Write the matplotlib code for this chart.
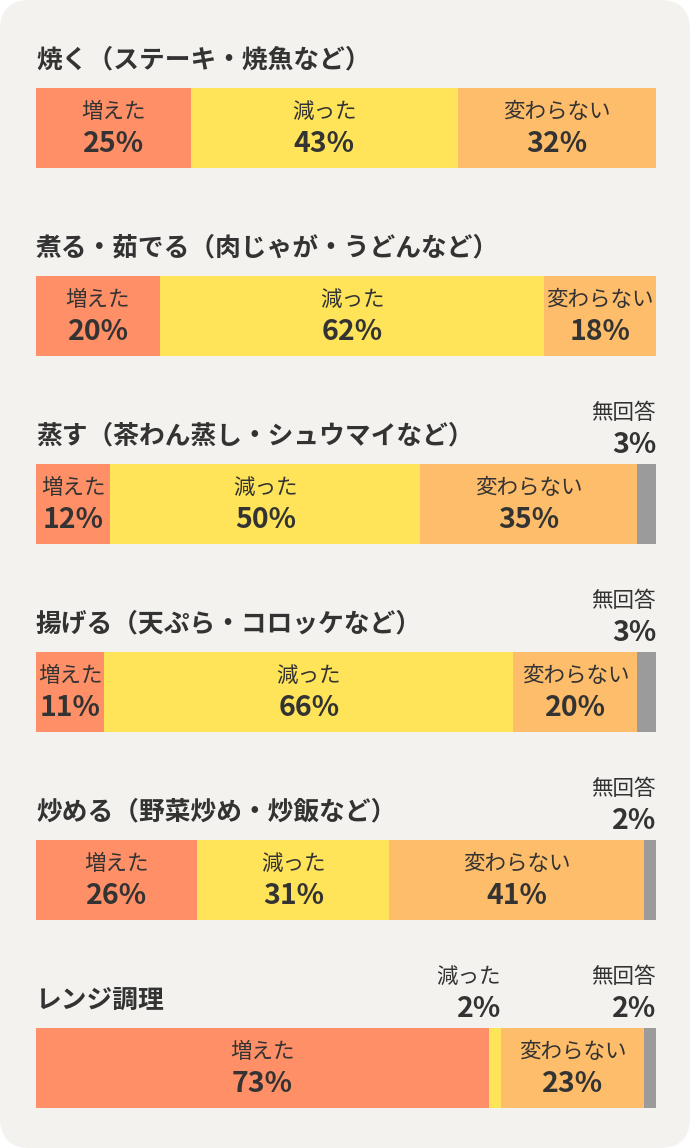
import matplotlib
matplotlib.use("Agg")
import matplotlib.pyplot as plt
from matplotlib.patches import FancyBboxPatch

plt.rcParams['font.family'] = ['Noto Sans CJK JP', 'DejaVu Sans']

titles = ['焼く（ステーキ・焼魚など）',
          '煮る・茹でる（肉じゃが・うどんなど）',
          '蒸す（茶わん蒸し・シュウマイなど）',
          '揚げる（天ぷら・コロッケなど）',
          '炒める（野菜炒め・炒飯など）',
          'レンジ調理']
categories = ['増えた', '減った', '変わらない', '無回答']
increased = [25, 20, 12, 11, 26, 73]
decreased = [43, 62, 50, 66, 31, 2]
unchanged = [32, 18, 35, 20, 41, 23]
no_answer = [0, 0, 3, 3, 2, 2]

colors = ['#ff8f66', '#ffe45a', '#fdbd6a', '#9b9b9b']
text_color = '#333333'

W, H = 690, 1148
fig = plt.figure(figsize=(W / 100, H / 100), dpi=100, facecolor='white')

# rounded background panel (pixel coordinates)
bg_ax = fig.add_axes([0, 0, 1, 1], zorder=-1)
bg_ax.set_xlim(0, W)
bg_ax.set_ylim(0, H)
bg_ax.axis('off')
bg_ax.add_patch(FancyBboxPatch((0, 0), W, H, boxstyle='round,pad=0,rounding_size=30',
                               facecolor='#f3f2ef', edgecolor='none'))

bar_left, bar_w, bar_h = 36, 620, 80
first_top, step = 88, 188

for i, title in enumerate(titles):
    top = first_top + i * step
    ax = fig.add_axes([bar_left / W, 1 - (top + bar_h) / H, bar_w / W, bar_h / H])
    ax.set_xlim(0, 100)
    ax.set_ylim(0, 1)
    ax.axis('off')

    vals = [increased[i], decreased[i], unchanged[i], no_answer[i]]
    left = 0
    for cat, v, c in zip(categories, vals, colors):
        if v == 0:
            continue
        ax.barh(0.5, v, left=left, height=1, color=c, edgecolor='none')
        if v >= 5:
            ax.text(left + v / 2, 1 - 24 / bar_h, cat, ha='center', va='center',
                    fontsize=15.5, color=text_color)
            ax.text(left + v / 2, 1 - 56 / bar_h, f'{v}%', ha='center', va='center',
                    fontsize=20.5, fontweight='bold', color=text_color)
        else:
            ax.text(left + v, 1 + 51 / bar_h, cat, ha='right', va='center',
                    fontsize=15.5, color=text_color, clip_on=False)
            ax.text(left + v, 1 + 19 / bar_h, f'{v}%', ha='right', va='center',
                    fontsize=20.5, fontweight='bold', color=text_color, clip_on=False)
        left += v

    ax.text(0, 1 + 28 / bar_h, title, ha='left', va='center', fontsize=18.5,
            fontweight='bold', color=text_color, clip_on=False)

fig.savefig('out.png', dpi=100, facecolor='white')
